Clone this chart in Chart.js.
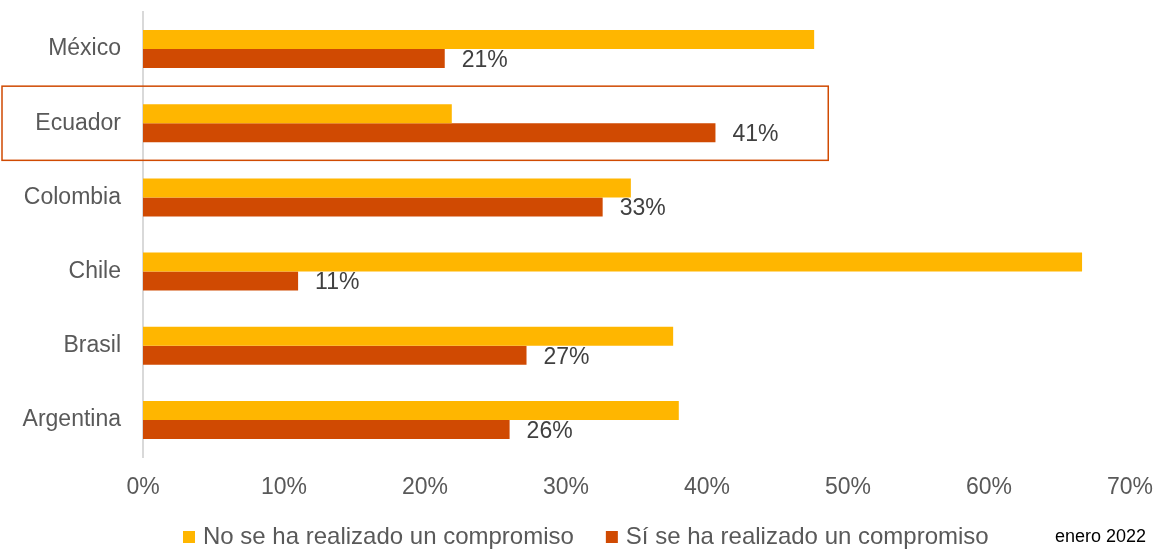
<!DOCTYPE html>
<html>
<head>
<meta charset="utf-8">
<script src="https://cdn.jsdelivr.net/npm/chart.js@4/dist/chart.umd.min.js"></script>
<style>
html,body{margin:0;padding:0;background:#fff;}
#wrap{width:1156px;height:549px;position:relative;}
</style>
</head>
<body>
<div id="wrap"><canvas id="chart"></canvas></div>
<script>
const countries = ['México','Ecuador','Colombia','Chile','Brasil','Argentina'];
const noCommitment = [47.6,21.9,34.6,66.6,37.6,38.0];
const yesCommitment = [21.4,40.6,32.6,11.0,27.2,26.0];
const xTicks = [0,10,20,30,40,50,60,70];
const seriesNames = ['No se ha realizado un compromiso','Sí se ha realizado un compromiso'];
const highlightCountry = 'Ecuador';
const highlightTo = 48.6;
const dateNote = 'enero 2022';

const YELLOW = '#FFB600';
const RED = '#D04A02';
const TEXT = '#595959';
const FONT = "'Liberation Sans', Arial, sans-serif";

// labels on the red bars, box round Ecuador, legend at the bottom and the date note
const extras = {
  id:'extras',
  afterDatasetsDraw(chart){
    const ctx = chart.ctx;
    const meta = chart.getDatasetMeta(1);
    ctx.save();
    ctx.font = '23px ' + FONT;
    ctx.fillStyle = '#404040';
    ctx.textAlign = 'left';
    ctx.textBaseline = 'middle';
    meta.data.forEach((bar,i) => {
      ctx.fillText(Math.round(yesCommitment[i]) + '%', bar.x + 17, bar.y + 2);
    });

    const y = chart.scales.y, x = chart.scales.x;
    const idx = countries.indexOf(highlightCountry);
    const center = y.getPixelForValue(idx);
    const band = y.getPixelForValue(1) - y.getPixelForValue(0);
    ctx.strokeStyle = RED;
    ctx.lineWidth = 1.5;
    ctx.strokeRect(2, center - band/2, x.getPixelForValue(highlightTo) - 2, band);

    // legend
    const ly = 537;
    let lx = 183;
    ctx.font = '24px ' + FONT;
    chart.data.datasets.forEach(ds => {
      ctx.fillStyle = ds.backgroundColor;
      ctx.fillRect(lx, ly - 6, 12, 12);
      ctx.fillStyle = TEXT;
      ctx.fillText(ds.label, lx + 20, ly);
      lx += 20 + ctx.measureText(ds.label).width + 32;
    });

    ctx.font = '18px ' + FONT;
    ctx.fillStyle = '#000';
    ctx.textAlign = 'right';
    ctx.fillText(dateNote, 1146, ly);
    ctx.restore();
  }
};

new Chart(document.getElementById('chart'),{
  type:'bar',
  data:{
    labels:countries,
    datasets:[{
      label:seriesNames[0],
      data:noCommitment,
      backgroundColor:YELLOW,
      categoryPercentage:0.512,
      barPercentage:1
    },{
      label:seriesNames[1],
      data:yesCommitment,
      backgroundColor:RED,
      categoryPercentage:0.512,
      barPercentage:1
    }]
  },
  options:{
    indexAxis:'y',
    responsive:true,
    maintainAspectRatio:false,
    animation:false,
    layout:{padding:{top:12,right:26,left:0,bottom:49}},
    plugins:{
      legend:{display:false},
      tooltip:{enabled:false}
    },
    scales:{
      x:{
        min:0,
        max:70,
        afterBuildTicks(scale){ scale.ticks = xTicks.map(v => ({value:v})); },
        afterFit(scale){
          scale.height = 43;
          scale.paddingLeft = 0;
          scale.paddingRight = 0;
        },
        ticks:{
          color:TEXT,
          font:{family:FONT,size:23},
          padding:9,
          maxRotation:0,
          callback:v => v + '%'
        },
        grid:{display:false},
        border:{display:false}
      },
      y:{
        afterFit(scale){
          scale.width = 143;
          scale.paddingTop = 0;
          scale.paddingBottom = 0;
        },
        ticks:{
          color:TEXT,
          font:{family:FONT,size:23},
          padding:14
        },
        grid:{display:false},
        border:{display:true,color:'#d9d9d9',width:2}
      }
    }
  },
  plugins:[extras]
});
</script>
</body>
</html>
